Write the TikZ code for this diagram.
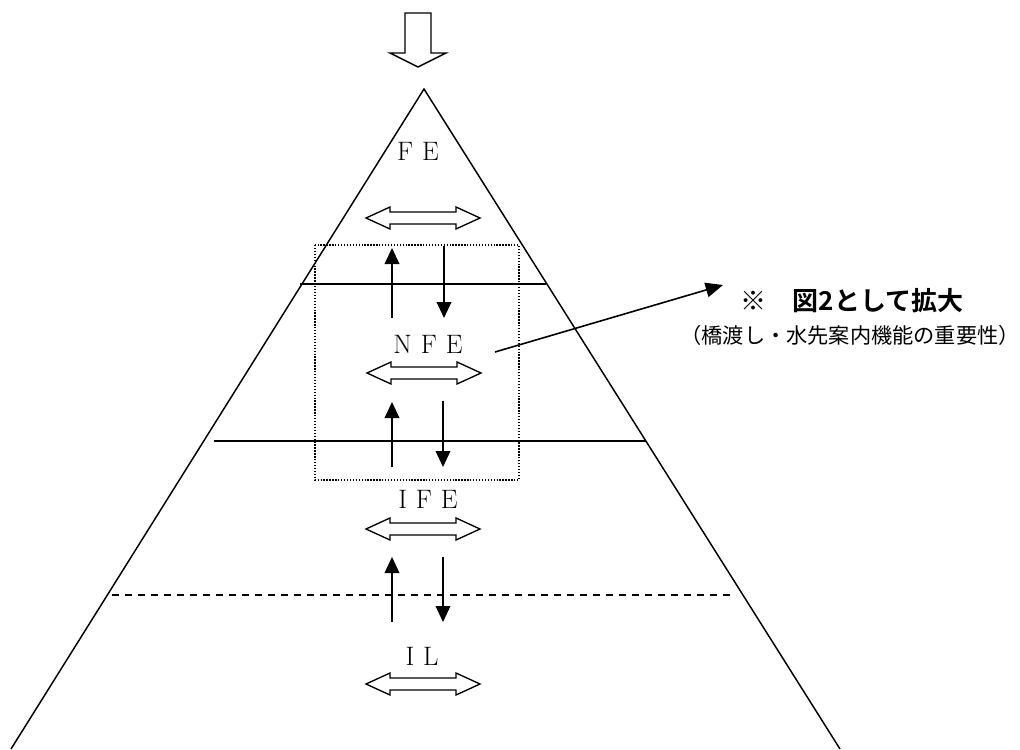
\documentclass[tikz,border=0pt]{standalone}
\usepackage{fontspec}
\newfontfamily\jpfont{Noto Sans CJK JP}
\newfontfamily\jpbold{Noto Sans CJK JP Bold}
\usetikzlibrary{arrows.meta}
\tikzset{
  edge/.style={line width=1.1pt},
  layerline/.style={line width=1pt},
  dashline/.style={line width=1pt, dash pattern=on 5.25pt off 4.5pt},
  frame/.style={line width=1pt, dash pattern=on 1pt off 1.2pt},
  vert/.style={line width=1.1pt, -{Triangle[length=12pt,width=11pt]}},
  dbl/.style={line width=1pt, draw=black, fill=white},
  lbl/.style={anchor=base, inner sep=0pt, font=\fontsize{20pt}{24pt}\selectfont},
  pointer/.style={line width=1.2pt, -{Triangle[length=13pt,width=11pt]}},
}
\newcommand{\dblarr}[2]{%
  \draw[dbl] (#1-57,#2) -- (#1-33,#2-11) -- (#1-33,#2-6) -- (#1+33,#2-6) -- (#1+33,#2-11)
    -- (#1+57,#2) -- (#1+33,#2+11) -- (#1+33,#2+6) -- (#1-33,#2+6) -- (#1-33,#2+11) -- cycle;}
\begin{document}
\begin{tikzpicture}[x=0.75pt,y=-0.75pt]
\useasboundingbox (0,0) rectangle (1020,749);
% big downward arrow
\draw[line width=1.1pt, fill=white] (405,13) -- (431,13) -- (431,53) -- (446,53) -- (418,67)
  -- (390,53) -- (405,53) -- cycle;
% pyramid
\coordinate (apex) at (424,89);
\coordinate (bl) at (11,749);
\coordinate (br) at (840,749);
\draw[edge] (bl) -- (apex) -- (br);
% layer lines
\draw[layerline] (300,284) -- (546,284);
\draw[layerline] (214,441) -- (646,441);
\draw[dashline] (112,595) -- (736,595);
% dotted frame
\draw[frame] (315,245) rectangle (519,480);
% labels
\node[lbl] (fe) at (418,160) {F\,\,E};
\node[lbl] (nfe) at (428,353) {N\,\,F\,\,E};
\node[lbl] (ife) at (428,508) {I\,\,F\,\,E};
\node[lbl] (il) at (422,665) {I\,\,L};
% double arrows
\dblarr{423}{218}
\dblarr{424}{373}
\dblarr{423}{529}
\dblarr{423}{684}
% up/down arrows
\draw[vert] (392,318) -- (392,248);
\draw[vert] (444,246) -- (444,318);
\draw[vert] (392,467) -- (392,402);
\draw[vert] (443,401) -- (443,467);
\draw[vert] (392,622) -- (392,557);
\draw[vert] (443,557) -- (443,622);
% side note
\node[anchor=base, inner sep=0pt, font=\jpbold\fontsize{19.5pt}{23pt}\selectfont] (note) at (852,310) {※　図2として拡大};
\node[anchor=base, inner sep=0pt, font=\jpfont\fontsize{15.9pt}{19pt}\selectfont] (sub) at (850,343) {（橋渡し・水先案内機能の重要性）};
\coordinate (from) at (495,352);
\coordinate (to) at (723,285);
\draw[pointer] (from) -- (to);
\end{tikzpicture}
\end{document}
